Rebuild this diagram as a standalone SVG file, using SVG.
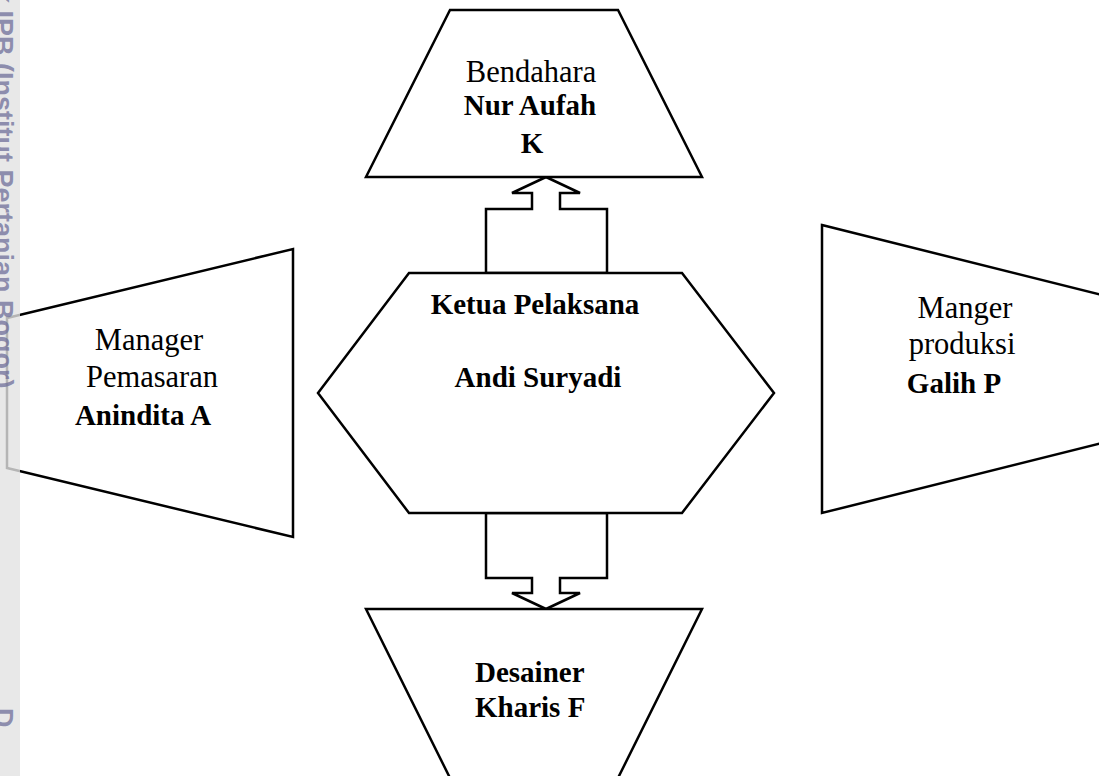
<svg xmlns="http://www.w3.org/2000/svg" width="1099" height="776" viewBox="0 0 1099 776">
  <style>
    .shape { fill: #ffffff; stroke: #000000; stroke-width: 2.5; stroke-linejoin: miter; }
    .arrow { fill: #ffffff; stroke: #000000; stroke-width: 2.5; stroke-linejoin: miter; }
    .t { font-family: "Liberation Serif", "Times New Roman", serif; font-size: 30.5px; fill: #000000; }
    .b { font-weight: bold; font-size: 29px; }
    .c { text-anchor: middle; }
    .wm { font-family: "Liberation Sans", Arial, sans-serif; font-weight: bold; font-size: 27px; fill: #6f6f9a; fill-opacity: 0.75; }
  </style>
  <rect x="0" y="0" width="1099" height="776" fill="#ffffff"/>

  <g id="connectors">
    <polygon class="arrow" points="486,273 486,209 532,209 532,193 512,193 546,177 580,193 560,193 560,209 607,209 607,273"/>
    <polygon class="arrow" points="486,513 486,578 532,578 532,593 512,593 546,609 580,593 560,593 560,578 607,578 607,513"/>
  </g>

  <g id="node-bendahara">
    <polygon class="shape" points="450,10 618,10 702,177 366,177"/>
    <text class="t c" x="531" y="82">Bendahara</text>
    <text class="t b c" x="530" y="115">Nur Aufah</text>
    <text class="t b c" x="532" y="153">K</text>
  </g>

  <g id="node-ketua">
    <polygon class="shape" points="409,273 682,273 774,393 682,513 409,513 318,393"/>
    <text class="t b c" x="535" y="314">Ketua Pelaksana</text>
    <text class="t b c" x="538" y="387">Andi Suryadi</text>
  </g>

  <g id="node-pemasaran">
    <polygon class="shape" points="7,318 293,249 293,537 7,468"/>
    <text class="t c" x="149" y="350">Manager</text>
    <text class="t c" x="152" y="387">Pemasaran</text>
    <text class="t b c" x="143" y="425">Anindita A</text>
  </g>

  <g id="node-produksi">
    <polygon class="shape" points="822,225 1102,295 1102,443 822,513"/>
    <text class="t c" x="965" y="318">Manger</text>
    <text class="t c" x="962" y="354">produksi</text>
    <text class="t b c" x="954" y="393">Galih P</text>
  </g>

  <g id="node-desainer">
    <polygon class="shape" points="366,609 702,609 618,778 450,778"/>
    <text class="t b" x="475" y="682">Desainer</text>
    <text class="t b" x="475" y="717">Kharis F</text>
  </g>

  <g id="watermark">
    <rect x="0" y="0" width="20" height="776" fill="#e2e2e2" fill-opacity="0.8"/>
    <text class="wm" transform="translate(-6,-12) rotate(90)">k IPB (Institut Pertanian Bogor)</text>
    <text class="wm" transform="translate(-6,708) rotate(90)">D</text>
  </g>
</svg>
